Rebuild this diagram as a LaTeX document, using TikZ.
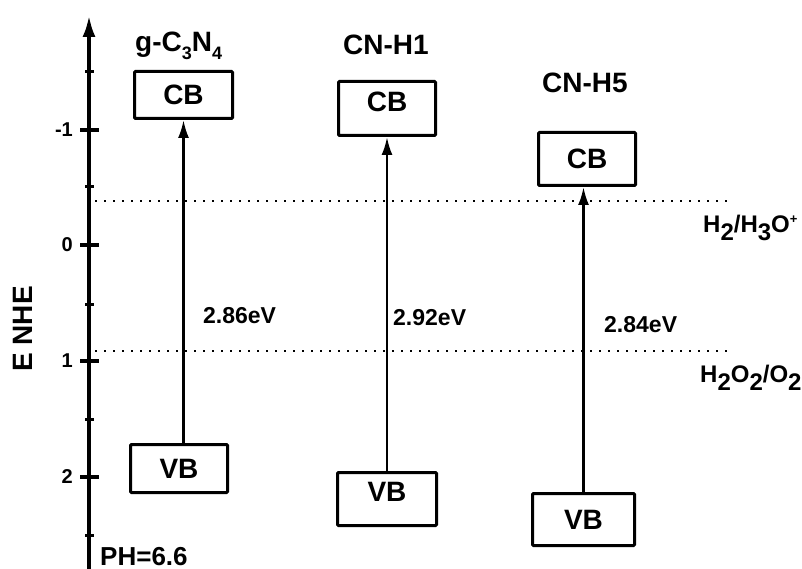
\documentclass[tikz,border=0pt]{standalone}
\usepackage{fontspec}
\setmainfont{Liberation Sans}
\usepackage{tikz}
\usetikzlibrary{positioning}
\usetikzlibrary{arrows.meta}

\newcommand{\lowsub}[1]{\raisebox{-8pt}{#1}}
\newcommand{\smallsub}[1]{\raisebox{-8pt}{\fontsize{18}{18}\selectfont #1}}
\newcommand{\smallsup}[1]{\raisebox{9pt}{\fontsize{13}{13}\selectfont #1}}

\begin{document}
\begin{tikzpicture}[x=1pt,y=-1pt,>={Latex[length=18pt,width=11pt]},
  band node/.style={rectangle,draw,line width=3pt,rounded corners=1pt,inner sep=0pt,
    minimum width=97pt,minimum height=53pt,font=\fontsize{28}{28}\selectfont\bfseries},
  raised/.style={text depth=14pt},
  title node/.style={anchor=base west,inner sep=0pt,font=\fontsize{28}{28}\selectfont\bfseries},
  gap node/.style={anchor=base west,inner sep=0pt,font=\fontsize{23}{23}\selectfont\bfseries},
  redox node/.style={anchor=base west,inner sep=0pt,font=\fontsize{24}{24}\selectfont\bfseries},
  tick label/.style={anchor=east,inner sep=0pt,font=\fontsize{20}{20}\selectfont\bfseries},
  level line/.style={line width=1.5pt,dash pattern=on 1.5pt off 7.5pt}]
  \useasboundingbox (0,0) rectangle (802,569);

  % energy axis
  \coordinate (axbot) at (89,569);
  \coordinate (axtop) at (89,15);
  \draw[line width=4pt,-{Latex[length=22pt,width=13pt]}] (axbot) -- (axtop);
  \foreach \v/\y [count=\i] in {-1/130,0/245,1/361,2/477} {
    \draw[line width=3.5pt] (80,\y) -- (99,\y);
    \node[tick label] (tick\i) at (73,\y) {\v};
  }
  \foreach \y in {72,187,304,419,535}
    \draw[line width=3pt] (85,\y) -- (94,\y);
  \node[rotate=90,inner sep=0pt,font=\fontsize{28}{28}\selectfont\bfseries] (axlabel) at (22.5,329) {E NHE};
  \node[anchor=base west,inner sep=0pt,font=\fontsize{26}{26}\selectfont\bfseries] (ph) at (100,565.5) {PH=6.6};

  % redox levels
  \coordinate (h2a) at (95,201);
  \coordinate (h2b) at (730,201);
  \coordinate (o2a) at (95,351);
  \coordinate (o2b) at (730,351);
  \draw[level line] (h2a) -- (h2b);
  \draw[level line] (o2a) -- (o2b);
  \node[redox node] (red1) at (703,233) {H\lowsub{2}/H\lowsub{3}O\smallsup{+}};
  \node[redox node] (red2) at (700,382) {H\lowsub{2}O\lowsub{2}/O\lowsub{2}};

  % bands
  \node[band node,minimum width=98pt,minimum height=47pt] (cb1) at (183.5,95) {CB};
  \node[band node,minimum height=48pt] (vb1) at (179,468.5) {VB};
  \node[band node,raised,minimum height=54pt] (cb2) at (387,108.5) {CB};
  \node[band node,raised,minimum width=99pt] (vb2) at (387,499) {VB};
  \node[band node] (cb3) at (587,159) {CB};
  \node[band node,minimum width=102pt,minimum height=52pt] (vb3) at (583.5,519.5) {VB};

  \node[title node] (t1) at (135,52) {g-C\smallsub{3}N\smallsub{4}};
  \node[title node] (t2) at (343,55) {CN-H1};
  \node[title node] (t3) at (542,93) {CN-H5};

  \draw[->,line width=2.5pt] (cb1.south |- vb1.north) -- (cb1.south);
  \draw[->,line width=2.5pt] (vb2.north) -- (cb2.south);
  \draw[->,line width=2.5pt] (vb3.north) -- (vb3.north |- cb3.south);

  \node[gap node] (gap1) at (203,323) {2.86eV};
  \node[gap node] (gap2) at (393,325) {2.92eV};
  \node[gap node] (gap3) at (604,332) {2.84eV};
\end{tikzpicture}
\end{document}
